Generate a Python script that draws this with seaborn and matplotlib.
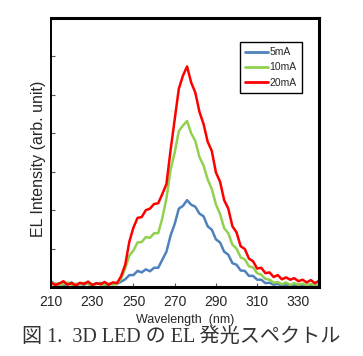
import numpy as np
import pandas as pd
import matplotlib
matplotlib.use("Agg")
import matplotlib.pyplot as plt
from matplotlib.ticker import FixedLocator, MultipleLocator
import seaborn as sns

# wavelength grid (nm), 2 nm steps
wavelength = list(range(210, 342, 2))

base_5 = [0.15, 0.06, 0.10, 0.05, 0.08, 0.12, 0.04, 0.09, 0.06, 0.10, 0.05, 0.08, 0.11, 0.04, 0.07, 0.09]
base_10 = [0.07, 0.10, 0.04, 0.08, 0.12, 0.05, 0.09, 0.06, 0.11, 0.07, 0.04, 0.10, 0.08, 0.05, 0.09, 0.06]
base_20 = [0.12, 0.05, 0.09, 0.15, 0.06, 0.10, 0.04, 0.11, 0.08, 0.14, 0.05, 0.10, 0.07, 0.13, 0.06, 0.12]

int_5mA = base_5 + [
    0.08, 0.14, 0.20, 0.31, 0.31,
    0.42, 0.38, 0.46, 0.41, 0.50,
    0.50, 0.71, 0.92, 1.34, 1.64,
    2.04, 2.11, 2.26, 2.14, 2.09,
    1.91, 1.84, 1.58, 1.49, 1.24,
    1.16, 0.92, 0.84, 0.62, 0.58,
    0.43, 0.42, 0.29, 0.29, 0.19,
    0.19, 0.10, 0.11, 0.06, 0.08,
    0.04, 0.07, 0.03, 0.06, 0.05,
    0.03, 0.06, 0.04, 0.05, 0.04]

int_10mA = base_10 + [
    0.08, 0.22, 0.48, 0.82, 0.95,
    1.16, 1.17, 1.30, 1.28, 1.40,
    1.40, 1.79, 2.31, 3.05, 3.50,
    4.06, 4.20, 4.32, 4.00, 3.80,
    3.38, 3.16, 2.80, 2.55, 2.15,
    1.90, 1.53, 1.40, 1.10, 1.00,
    0.77, 0.72, 0.54, 0.51, 0.36,
    0.32, 0.21, 0.19, 0.11, 0.13,
    0.07, 0.12, 0.05, 0.10, 0.06,
    0.09, 0.04, 0.08, 0.05, 0.07]

int_20mA = base_20 + [
    0.10, 0.28, 0.58, 1.18, 1.55,
    1.80, 1.82, 2.00, 2.04, 2.16,
    2.18, 2.42, 2.68, 3.56, 4.36,
    5.16, 5.50, 5.74, 5.32, 5.06,
    4.56, 4.24, 3.78, 3.54, 2.98,
    2.74, 2.26, 2.04, 1.58, 1.42,
    1.06, 0.99, 0.74, 0.67, 0.48,
    0.50, 0.36, 0.38, 0.26, 0.31,
    0.20, 0.25, 0.19, 0.23, 0.15,
    0.19, 0.12, 0.18, 0.10, 0.16]

labels = ["5mA", "10mA", "20mA"]
colors = {"5mA": "#4F81BD", "10mA": "#92D050", "20mA": "#FF0000"}
xtick_major = [210, 230, 250, 270, 290, 310, 330]
xtick_minor = [220, 240, 260, 280, 300, 320, 340]

df = pd.concat([
    pd.DataFrame({"wl": wavelength, "I": vals, "cur": lab})
    for lab, vals in zip(labels, [int_5mA, int_10mA, int_20mA])
], ignore_index=True)

sns.set_style("white")
plt.rcParams["font.family"] = ["Liberation Sans", "DejaVu Sans"]

fig = plt.figure(figsize=(3.63, 3.56), dpi=100)
ax = fig.add_axes([0.1405, 0.1938, 0.7383, 0.7556])

sns.lineplot(data=df, x="wl", y="I", hue="cur", hue_order=labels,
             palette=colors, linewidth=1.8, ax=ax)

ax.set_xlim(210, 340)
ax.set_ylim(0, 7)
ax.xaxis.set_major_locator(FixedLocator(xtick_major))
ax.xaxis.set_minor_locator(FixedLocator(xtick_minor))
ax.yaxis.set_major_locator(MultipleLocator(1))
ax.set_yticklabels([])
ax.tick_params(axis="both", which="both", direction="in", color="#555555")
ax.tick_params(axis="x", which="major", length=3, labelsize=10, pad=6)
ax.tick_params(axis="x", which="minor", length=3)
ax.tick_params(axis="y", length=3, left=True)
ax.tick_params(axis="x", bottom=True)

for side in ["top", "right", "bottom"]:
    ax.spines[side].set_linewidth(2.2)
    ax.spines[side].set_color("black")
ax.spines["left"].set_linewidth(1.4)
ax.spines["left"].set_color("black")

ax.set_xlabel("Wavelength  (nm)", fontsize=9, labelpad=3)
ax.set_ylabel("EL Intensity (arb. unit)", fontsize=11.5)
ax.yaxis.set_label_coords(-0.02, 0.476)

leg = ax.legend(loc="upper right", bbox_to_anchor=(0.955, 0.93), fontsize=7.5,
                frameon=True, fancybox=False, edgecolor="black", framealpha=1,
                handlelength=2.2, handletextpad=0.1, borderpad=0.5, labelspacing=0.5)
leg.get_frame().set_linewidth(1.0)
for line in leg.get_lines():
    line.set_linewidth(2)

fig.text(0.5, 0.052, "図 1.  3D LED の EL 発光スペクトル", ha="center", va="center",
         fontsize=14.5, color="#333333",
         family=["Liberation Serif", "Noto Sans CJK JP"])

fig.savefig("out.png", dpi=100)
